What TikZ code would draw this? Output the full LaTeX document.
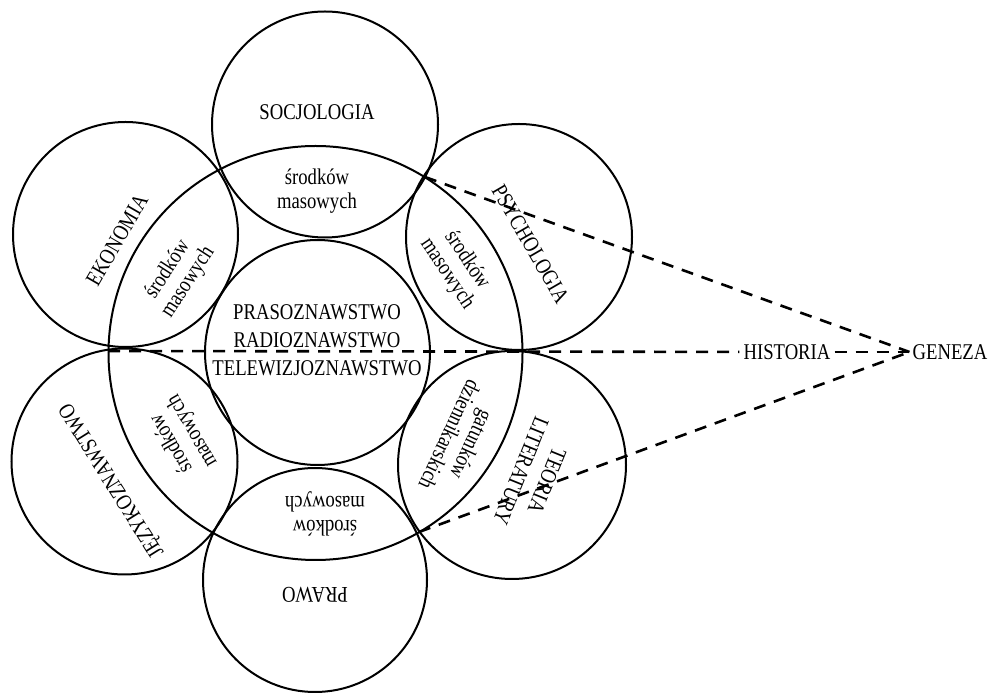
\documentclass[tikz,border=0pt]{standalone}
\usepackage{fontspec}
\setmainfont[FakeStretch=0.83]{Liberation Serif}
\usepackage{tikz}

\tikzset{
  ring/.style={line width=2pt},
  lab/.style={font=\fontsize{22.5}{28}\selectfont, align=center, inner sep=1pt},
  lens/.style={font=\fontsize{22.5}{24}\selectfont, align=center, inner sep=1pt},
  link/.style={line width=2.6pt, dash pattern=on 12pt off 9pt}
}

\begin{document}
\begin{tikzpicture}[x=1pt,y=1pt]
    \useasboundingbox (0,0) rectangle (990,693);

    % big circle and the inner one
    \draw[ring] (315.5,340) circle (207);
    \draw[ring] (317.5,340.5) circle (112.5);
    % the six around
    \draw[ring] (325,568.5) circle (113);
    \draw[ring] (125.5,458.5) circle (112.5);
    \draw[ring] (519,456) circle (113);
    \draw[ring] (124.5,231.5) circle (113);
    \draw[ring] (512,228) circle (114);
    \draw[ring] (315,113) circle (112);

    \node[lab] (in) at (317,353) {PRASOZNAWSTWO\\RADIOZNAWSTWO\\TELEWIZJOZNAWSTWO};

    \node[lab] (1) at (317,581) {SOCJOLOGIA};
    \node[lab, rotate=60] (2) at (117,453) {EKONOMIA};
    \node[lab, rotate=-60] (3) at (530.5,449) {PSYCHOLOGIA};
    \node[lab, rotate=122] (4) at (112.5,213) {JĘZYKOZNAWSTWO};
    \node[lab, rotate=-112] (5) at (534,217) {TEORIA\\LITERATURY};
    \node[lab, rotate=180] (6) at (315,98) {PRAWO};

    % the lenses
    \node[lens] (1a) at (317,502) {środków\\masowych};
    \node[lens, rotate=57] (2a) at (178,417) {środków\\masowych};
    \node[lens, rotate=-56] (3a) at (457,426) {środków\\masowych};
    \node[lens, rotate=120] (4a) at (182,256) {środków\\masowych};
    \node[lens, rotate=-115] (5a) at (461,253) {gatunków\\dziennikarskich};
    \node[lens, rotate=180] (6a) at (325,179) {środków\\masowych};

    \coordinate (p0) at (108,342);
    \coordinate (p1) at (425,516);
    \coordinate (p2) at (419,161);
    \node[lab, inner sep=4pt] (h) at (787,341) {HISTORIA};
    \node[lab, inner sep=3pt] (g) at (950,341) {GENEZA};

    \draw[link] (p0) -- (h);
    \draw[link] (h) -- (g);
    \draw[link] (p1) -- (g.west);
    \draw[link] (p2) -- (g.west);
    % \draw[link] (p1) -- (h);
\end{tikzpicture}
\end{document}
